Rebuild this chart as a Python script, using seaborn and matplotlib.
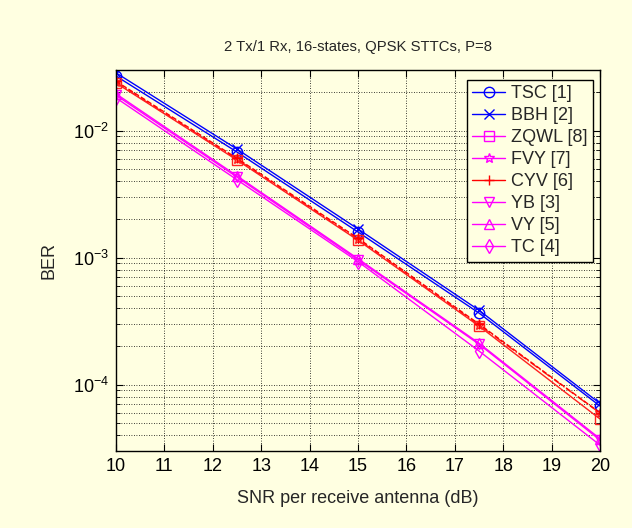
import numpy as np
import pandas as pd
import matplotlib
matplotlib.use("Agg")
import matplotlib.pyplot as plt
import seaborn as sns
from matplotlib.lines import Line2D
from matplotlib.ticker import LogLocator, FixedLocator, NullFormatter

snr = [10, 12.5, 15, 17.5, 20]
tsc  = [0.0269, 0.00678, 0.00159, 3.66e-4, 6.78e-5]
bbh  = [0.0285, 0.00715, 0.00168, 3.85e-4, 7.10e-5]
zqwl = [0.0237, 0.00586, 0.00137, 2.89e-4, 5.36e-5]
fvy  = [0.0240, 0.00595, 0.00139, 2.95e-4, 5.97e-5]
cyv  = [0.0245, 0.00605, 0.00142, 3.00e-4, 6.00e-5]
yb   = [0.0190, 0.00430, 0.00096, 2.08e-4, 3.66e-5]
vy   = [0.0195, 0.00440, 0.00098, 2.12e-4, 3.75e-5]
tc   = [0.0181, 0.00410, 0.00093, 1.84e-4, 3.34e-5]

labels = ["TSC [1]", "BBH [2]", "ZQWL [8]", "FVY [7]", "CYV [6]", "YB [3]", "VY [5]", "TC [4]"]
series = [tsc, bbh, zqwl, fvy, cyv, yb, vy, tc]
markers = ["o", "x", "s", "*", "+", "v", "^", "d"]
plot_colors = ["#0000ff", "#0000ff", "#ff2020", "#ff2020", "#ff0000", "#ff00ff", "#ff00ff", "#ff00ff"]
legend_colors = ["#0000ff", "#0000ff", "#ff00ff", "#ff00ff", "#ff0000", "#ff00ff", "#ff00ff", "#ff00ff"]
styles = ["-", "-", "-", "-.", "--", "-", "-", "-"]

bg = "#ffffe1"
sns.set_style("ticks")
plt.rcParams["font.family"] = ["Liberation Sans", "DejaVu Sans"]
plt.rcParams["mathtext.fontset"] = "custom"
plt.rcParams["mathtext.rm"] = "Liberation Sans"
plt.rcParams["mathtext.it"] = "Liberation Sans"

FS = 13

fig = plt.figure(figsize=(6.32, 5.28), dpi=100, facecolor=bg)
ax = fig.add_axes([116/632, 1 - 451/528, 484/632, 381/528])
ax.set_facecolor(bg)

for lab, ys, m, c, ls in zip(labels, series, markers, plot_colors, styles):
    df = pd.DataFrame({"snr": snr, "ber": ys})
    sns.lineplot(data=df, x="snr", y="ber", ax=ax, color=c, linestyle=ls,
                 linewidth=1.0, marker=m, markersize=7.5,
                 markerfacecolor="none", markeredgecolor=c, markeredgewidth=1.0,
                 legend=False)

ax.set_yscale("log")
ax.set_xlim(10, 20)
ax.set_ylim(3e-5, 3e-2)
ax.xaxis.set_major_locator(FixedLocator(list(range(10, 21))))
ax.yaxis.set_major_locator(FixedLocator([1e-4, 1e-3, 1e-2]))
ax.yaxis.set_minor_locator(LogLocator(base=10, subs=np.arange(2, 10)))
ax.yaxis.set_minor_formatter(NullFormatter())
ax.set_yticklabels([r"$10^{-4}$", r"$10^{-3}$", r"$10^{-2}$"])

ax.grid(True, which="major", axis="both", color="black", linestyle=(0, (1, 2)), linewidth=0.6)
ax.grid(True, which="minor", axis="y", color="black", linestyle=(0, (1, 2)), linewidth=0.6)
ax.tick_params(which="both", direction="in", top=True, right=True, labelsize=FS, colors="black")
ax.tick_params(which="major", length=5, pad=5)
ax.tick_params(which="minor", length=3)
for s in ax.spines.values():
    s.set_visible(True)
    s.set_color("black")
    s.set_linewidth(1.0)

ax.set_xlabel("SNR per receive antenna (dB)", fontsize=FS, labelpad=11)
ax.set_ylabel("BER", fontsize=FS, labelpad=11)
ax.set_title("2 Tx/1 Rx, 16-states, QPSK STTCs, P=8", fontsize=10.7, pad=14)

handles = [Line2D([0], [0], color=c, linestyle="-", linewidth=1.0, marker=m, markersize=7.5,
                  markerfacecolor="none", markeredgecolor=c)
           for c, m in zip(legend_colors, markers)]
leg = ax.legend(handles, labels, loc="upper right", bbox_to_anchor=(0.986, 0.975),
                borderaxespad=0, fontsize=FS, handlelength=1.8, handletextpad=0.35,
                labelspacing=0.28, borderpad=0.3,
                fancybox=False, framealpha=1, facecolor=bg, edgecolor="black")
leg.get_frame().set_linewidth(1.0)

fig.savefig("out.png", dpi=100, facecolor=bg)
